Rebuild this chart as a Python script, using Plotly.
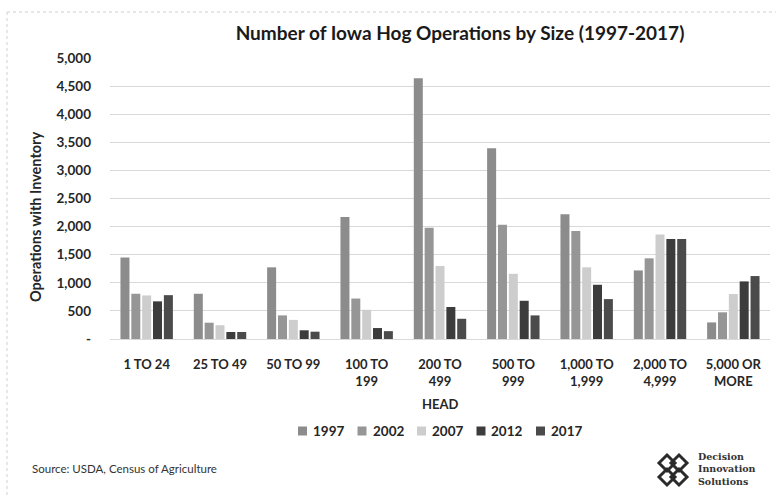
import plotly.graph_objects as go

categories = ["1 TO 24", "25 TO 49", "50 TO 99", "100 TO<br>199", "200 TO<br>499",
              "500 TO<br>999", "1,000 TO<br>1,999", "2,000 TO<br>4,999", "5,000 OR<br>MORE"]
years = ["1997", "2002", "2007", "2012", "2017"]
v1997 = [1450, 805, 1275, 2170, 4640, 3395, 2220, 1220, 295]
v2002 = [805, 290, 420, 720, 1980, 2035, 1920, 1435, 475]
v2007 = [775, 245, 340, 520, 1300, 1160, 1275, 1860, 800]
v2012 = [670, 125, 155, 195, 570, 680, 965, 1780, 1025]
v2017 = [780, 125, 130, 140, 360, 420, 710, 1780, 1120]
series = [v1997, v2002, v2007, v2012, v2017]
colors = ["#8c8c8c", "#969696", "#cdcdcd", "#3c3c3c", "#4b4b4b"]

y_tickvals = [0, 500, 1000, 1500, 2000, 2500, 3000, 3500, 4000, 4500, 5000]
y_ticktext = ["-", "500", "1,000", "1,500", "2,000", "2,500", "3,000", "3,500", "4,000", "4,500", "5,000"]

W, H = 776, 496
L, R, T, B = 110, 6, 58, 157
PW, PH = W - L - R, H - T - B


def px(x):
    return (x - L) / PW


def py(y):
    return (H - B - y) / PH


FONT = "Lato, 'Open Sans', sans-serif"

fig = go.Figure()
for yr, vals, col in zip(years, series, colors):
    fig.add_trace(go.Bar(name=yr, x=categories, y=vals, marker_color=col,
                         marker_line_width=0, showlegend=False))

fig.update_layout(
    width=W, height=H,
    margin=dict(l=L, r=R, t=T, b=B),
    paper_bgcolor="white", plot_bgcolor="white",
    barmode="group", bargap=0.26, bargroupgap=0.17,
    font=dict(family=FONT, color="#262626"),
    title=dict(text="<b>Number of Iowa Hog Operations by Size (1997-2017)</b>",
               x=px(460), xanchor="center", xref="paper",
               y=1 - 33 / H, yanchor="middle", yref="container",
               font=dict(size=19, family=FONT, color="#1a1a1a")),
    xaxis=dict(showgrid=False, showline=False, ticks="", ticklabelstandoff=16,
               tickfont=dict(size=13, family=FONT, color="#262626", weight="bold"),
               tickangle=0),
    yaxis=dict(range=[0, 5000], tickvals=y_tickvals, ticktext=y_ticktext,
               showgrid=True, gridcolor="#d9d9d9", gridwidth=1,
               zeroline=True, zerolinecolor="#d9d9d9", zerolinewidth=1,
               showline=False, ticks="", ticklabelstandoff=18,
               tickfont=dict(size=13.5, family=FONT, color="#262626", weight="bold")),
)

annotations = [
    dict(text="<b>HEAD</b>", x=0.5, y=py(404), xref="paper", yref="paper",
         xanchor="center", yanchor="middle", showarrow=False,
         font=dict(size=13, family=FONT, color="#262626")),
    dict(text="<b>Operations with Inventory</b>", x=px(35), y=py(217), xref="paper", yref="paper",
         xanchor="center", yanchor="middle", showarrow=False, textangle=-90,
         font=dict(size=14.5, family=FONT, color="#262626")),
    dict(text="Source: USDA, Census of Agriculture", x=px(30), y=py(468), xref="paper", yref="paper",
         xanchor="left", yanchor="middle", showarrow=False,
         font=dict(size=11.5, family=FONT, color="#333333")),
    dict(text="<b>Decision<br>Innovation<br>Solutions</b>", x=px(696), y=py(469), xref="paper", yref="paper",
         xanchor="left", yanchor="middle", showarrow=False, align="left",
         font=dict(size=9.5, family="'DejaVu Serif', 'Liberation Serif', serif", color="#333333")),
]

shapes = []
# legend (swatches + labels)
leg_x0, leg_pitch, leg_y = 298, 59.5, 431
for i, (yr, col) in enumerate(zip(years, colors)):
    sx = leg_x0 + i * leg_pitch
    shapes.append(dict(type="rect", xref="paper", yref="paper",
                       x0=px(sx), x1=px(sx + 9), y0=py(leg_y - 4.5), y1=py(leg_y + 4.5),
                       fillcolor=col, line=dict(width=0)))
    annotations.append(dict(text=f"<b>{yr}</b>", x=px(sx + 13), y=py(leg_y), xref="paper", yref="paper",
                            xanchor="left", yanchor="middle", showarrow=False,
                            font=dict(size=13.5, family=FONT, color="#262626")))

# faint dotted frame
shapes.append(dict(type="line", xref="paper", yref="paper", x0=px(7), x1=px(7), y0=py(12), y1=py(496),
                   line=dict(color="#d0d0d0", width=1, dash="dot")))
shapes.append(dict(type="line", xref="paper", yref="paper", x0=px(7), x1=px(776), y0=py(12), y1=py(12),
                   line=dict(color="#d0d0d0", width=1, dash="dot")))


# logo: interlocking links
def diamond(cx, cy, r):
    pts = [(cx, cy - r), (cx + r, cy), (cx, cy + r), (cx - r, cy)]
    d = "M " + " L ".join(f"{px(x):.5f},{py(y):.5f}" for x, y in pts) + " Z"
    return d


for cx, cy in [(667, 463), (679, 463), (667, 477), (679, 477)]:
    shapes.append(dict(type="path", xref="paper", yref="paper", path=diamond(cx, cy, 8),
                       line=dict(color="#2b2b2b", width=3)))

fig.update_layout(annotations=annotations, shapes=shapes)

fig.write_html("out.html")
